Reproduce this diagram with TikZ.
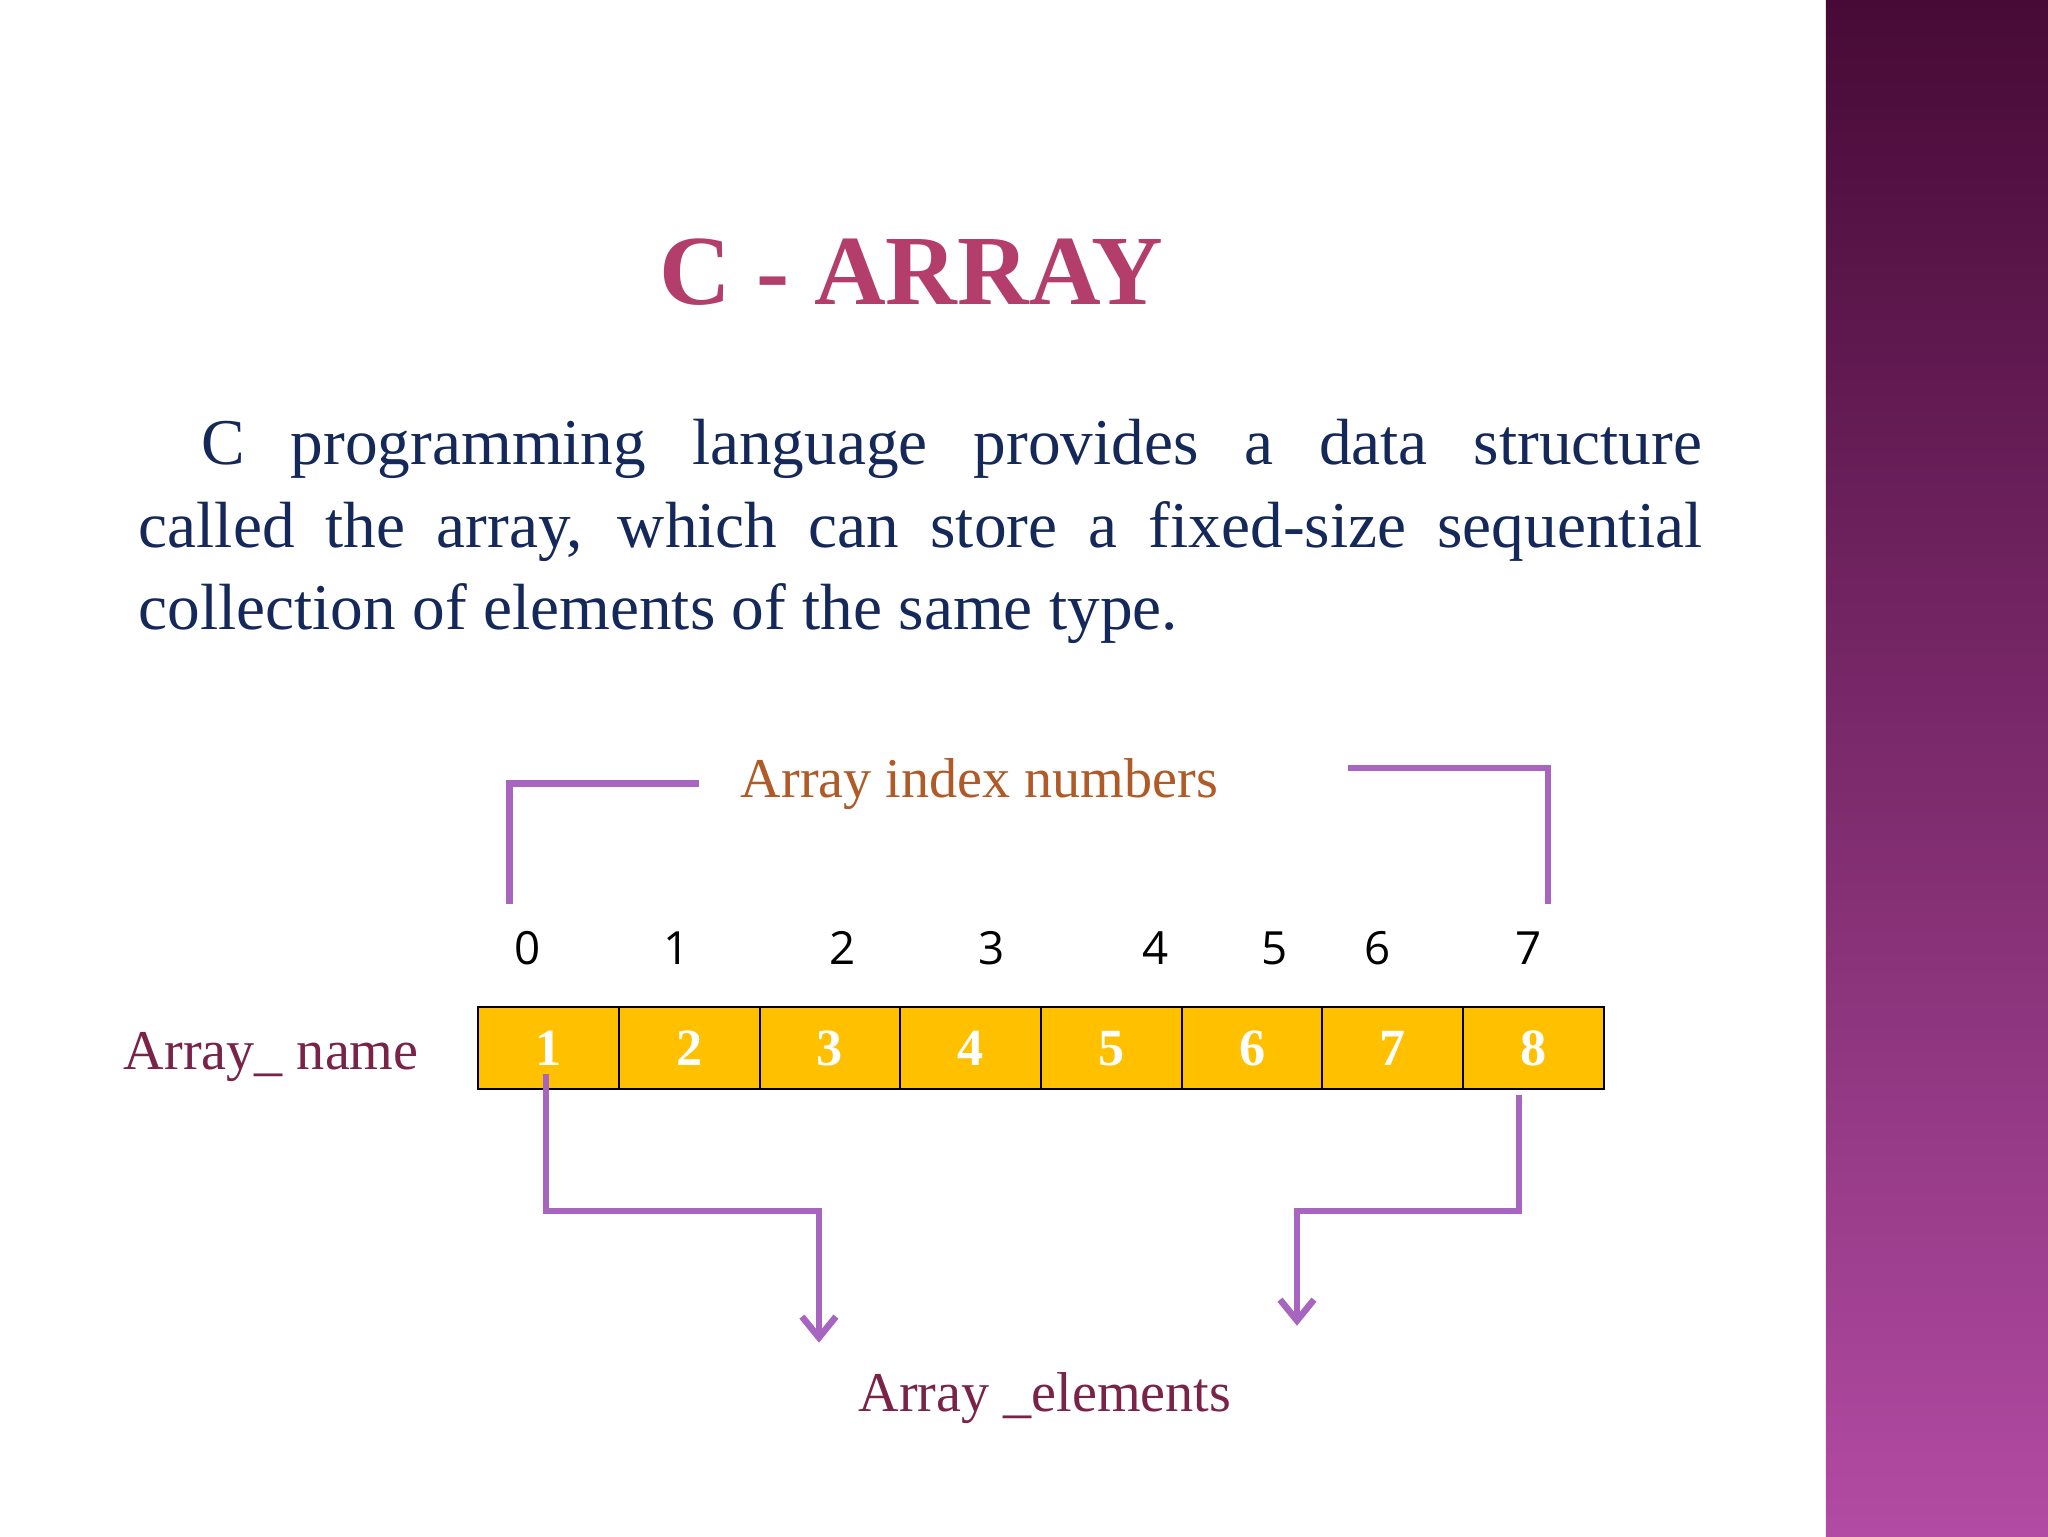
\documentclass[tikz,border=0pt]{standalone}
\usepackage{fontspec}
\setmainfont{Liberation Serif}
\newfontfamily\idxfont{Open Sans}
\usetikzlibrary{arrows.meta}
\definecolor{ttl}{HTML}{B33D6B}
\definecolor{body}{HTML}{14285A}
\definecolor{cellc}{HTML}{FFC000}
\definecolor{brk}{HTML}{A865BF}
\definecolor{nm}{HTML}{7A2348}
\definecolor{idx}{HTML}{B05A28}
\definecolor{bandtop}{HTML}{470A36}
\definecolor{bandbot}{HTML}{B24BA3}
\begin{document}
\begin{tikzpicture}[x=1pt,y=-1pt,
  cell/.style={draw=black,line width=1.5pt,fill=cellc,minimum width=107.75pt,minimum height=63pt,inner sep=0pt,text=white,font=\bfseries\fontsize{40}{40}\selectfont},
  idxlab/.style={font=\idxfont\fontsize{35}{35}\selectfont},
  conn/.style={draw=brk,line width=5pt},
  arr/.style={conn,-{Straight Barb[length=16pt,width=26pt,line width=5pt]}}]
\useasboundingbox (0,0) rectangle (1568,1176);
\fill[white] (0,0) rectangle (1568,1176);
\shade[top color=bandtop,bottom color=bandbot] (1398,0) rectangle (1568,1176);
\node[text=ttl,font=\bfseries\fontsize{76}{76}\selectfont] (title) at (698,208) {C - ARRAY};
\node[text=body,font=\fontsize{50}{63}\selectfont,text width=1197pt,align=justify,anchor=north west,inner sep=0pt] (para) at (106,321)
 {\hspace*{48pt}C programming language provides a data structure\linebreak called the array, which can store a fixed-size sequential\linebreak collection of elements of the same type.};
\node[text=idx,font=\fontsize{43}{43}\selectfont] (idxt) at (750,600) {Array index numbers};
\foreach \x/\n in {404/0,518/1,645/2,759/3,885/4,976/5,1055/6,1170/7}
  \node[idxlab] (i\n) at (\x,726) {\n};
\foreach \i in {1,...,8}
  \node[cell] (c\i) at ({366+107.75*(\i-0.5)},802.5) {\i};
\node[text=nm,font=\fontsize{43}{43}\selectfont,anchor=east] (aname) at (324,809) {Array\_ name};
\node[text=nm,font=\fontsize{43}{43}\selectfont] (aelem) at (800,1070) {Array \_elements};
\coordinate (l1) at (390,692); \coordinate (l2) at (390,600); \coordinate (l3) at (535,600);
\coordinate (r1) at (1032,588); \coordinate (r2) at (1185,588); \coordinate (r3) at (1185,692);
\draw[conn] (l1) -- (l2) -- (l3);
\draw[conn] (r1) -- (r2) -- (r3);
\coordinate (a1) at (418,822); \coordinate (a2) at (418,927); \coordinate (a3) at (627,927); \coordinate (a4) at (627,1028);
\coordinate (b1) at (1163,838); \coordinate (b2) at (1163,927); \coordinate (b3) at (993,927); \coordinate (b4) at (993,1015);
\draw[arr] (a1) -- (a2) -- (a3) -- (a4);
\draw[arr] (b1) -- (b2) -- (b3) -- (b4);
\end{tikzpicture}
\end{document}
